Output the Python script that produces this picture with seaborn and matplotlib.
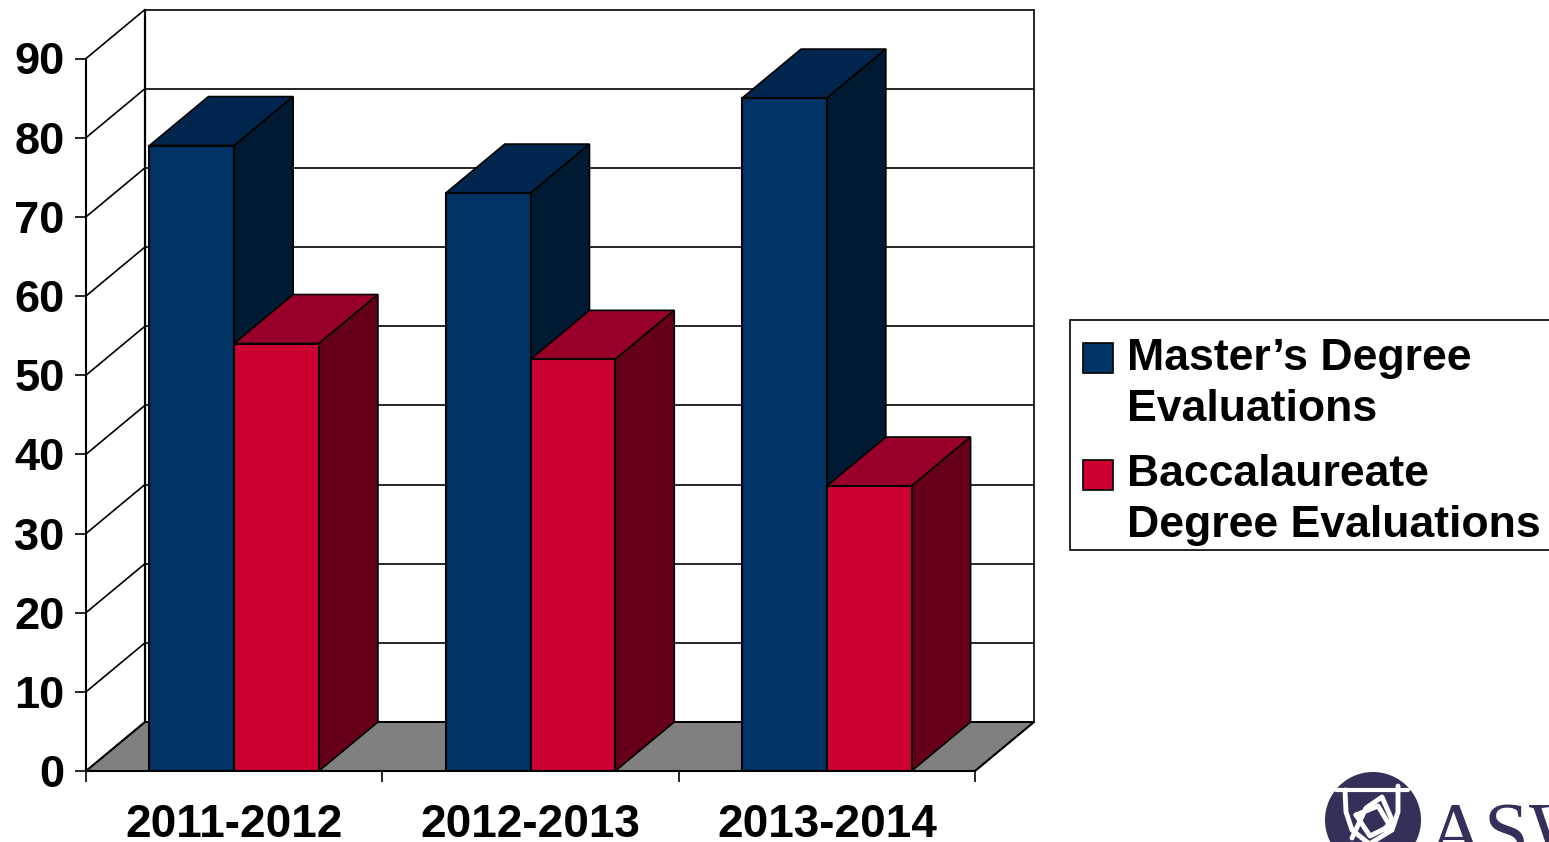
import matplotlib
matplotlib.use("Agg")
import matplotlib.pyplot as plt
import pandas as pd
import seaborn as sns
from matplotlib.patches import Circle, Polygon
from matplotlib.ticker import FixedLocator, NullFormatter

# Valores
years = ["2011-2012", "2012-2013", "2013-2014"]
masters = [79, 73, 85]
bachelors = [54, 52, 36]
series_names = ["Master\u2019s Degree\nEvaluations", "Baccalaureate\nDegree Evaluations"]
y_ticks = [0, 10, 20, 30, 40, 50, 60, 70, 80, 90]

W, H = 1549, 842
FS_X = 33.1
FS_Y = 32.6
FS_LEG = 32.1
BLUE = ("#003366", "#00264d", "#001a33")
RED = ("#cc0033", "#990029", "#660019")
NAVY = "#33305a"

sns.set_style("white")
plt.rcParams["font.family"] = ["Liberation Sans", "DejaVu Sans"]
plt.rcParams["font.weight"] = "bold"

df = pd.DataFrame({
    "year": years * 2,
    "value": masters + bachelors,
    "serie": [series_names[0]] * 3 + [series_names[1]] * 3,
})

fig = plt.figure(figsize=(W / 100, H / 100), dpi=100)
ax = fig.add_axes([86 / W, 1 - 771 / H, (975 - 86) / W, (771 - 58.5) / H])

sns.barplot(data=df, x="year", y="value", hue="serie", order=years,
            palette=[BLUE[0], RED[0]], width=0.572, gap=0, saturation=1,
            edgecolor="black", linewidth=1.5, ax=ax)
ax.set_xlim(-0.5, 2.5)
ax.set_ylim(0, 90)

# profundidad 3D en unidades de datos
dx = 59 / ((975 - 86) / 3)
dy = 49 / ((771 - 58.5) / 90)
x0, x1 = -0.5, 2.5

# paredes, suelo y rejilla
ax.add_patch(Polygon([(x0, 0), (x1, 0), (x1 + dx, dy), (x0 + dx, dy)], closed=True,
                     facecolor="#808080", edgecolor="black", lw=1.4, clip_on=False, zorder=1))
for t in y_ticks:
    ax.plot([x0, x0 + dx], [t, t + dy], color="black", lw=1.2, clip_on=False, zorder=1)
    ax.plot([x0 + dx, x1 + dx], [t + dy, t + dy], color="black", lw=1.2, clip_on=False, zorder=1)
ax.plot([x0 + dx, x0 + dx], [dy, 90 + dy], color="black", lw=1.6, clip_on=False, zorder=1)
ax.plot([x1 + dx, x1 + dx], [dy, 90 + dy], color="black", lw=1.2, clip_on=False, zorder=1)
ax.plot([x1, x1 + dx], [0, dy], color="black", lw=1.2, clip_on=False, zorder=1)

# caras superior y lateral de cada barra
for n, (container, shades) in enumerate(zip(ax.containers, (BLUE, RED))):
    for bar in container:
        left, right = bar.get_x(), bar.get_x() + bar.get_width()
        top = bar.get_height()
        bar.set_zorder(3 + 2 * n + 1)
        ax.add_patch(Polygon([(left, top), (right, top), (right + dx, top + dy), (left + dx, top + dy)],
                             closed=True, facecolor=shades[1], edgecolor="black", lw=1.2,
                             clip_on=False, zorder=3 + 2 * n))
        ax.add_patch(Polygon([(right, 0), (right, top), (right + dx, top + dy), (right + dx, dy)],
                             closed=True, facecolor=shades[2], edgecolor="black", lw=1.2,
                             clip_on=False, zorder=3 + 2 * n))

# ejes
sns.despine(ax=ax, top=True, right=True)
for side in ("left", "bottom"):
    ax.spines[side].set_color("black")
    ax.spines[side].set_linewidth(1.5)
    ax.spines[side].set_zorder(9)
ax.set_xlabel("")
ax.set_ylabel("")
ax.set_yticks(y_ticks)
ax.tick_params(axis="y", left=True, length=8, width=1.2, pad=7.5, labelsize=FS_Y, color="black", labelcolor="black")
ax.tick_params(axis="x", which="major", bottom=False, length=0, pad=23, labelsize=FS_X, labelcolor="black")
ax.xaxis.set_minor_locator(FixedLocator([-0.5, 0.5, 1.5, 2.5]))
ax.xaxis.set_minor_formatter(NullFormatter())
ax.tick_params(axis="x", which="minor", bottom=True, length=8, width=1.2, color="black")

# leyenda, el borde derecho queda fuera de la imagen
sns.move_legend(ax, "upper left", bbox_to_anchor=(1070 / W, 1 - 319.5 / H), bbox_transform=fig.transFigure,
                title=None, fontsize=FS_LEG, frameon=True, fancybox=False, framealpha=1, edgecolor="black",
                borderaxespad=0, borderpad=0.244, handlelength=0.67, handleheight=0.65,
                handletextpad=0.42, labelspacing=0.54)
leg = ax.get_legend()
leg.get_frame().set_linewidth(1.2)
leg.set_zorder(10)
for txt in leg.get_texts():
    txt.set_linespacing(1.32)
    txt.set_color("black")
    # el texto baja dentro del marco, como en el original
    txt.set_position((-2.4, -7.5))
for handle in leg.legend_handles:
    handle.set_y(handle.get_y() + 13.3)
    handle.set_x(handle.get_x() + 1.8)
    handle.set_edgecolor("black")
    handle.set_linewidth(1.2)

# logo cortado abajo a la derecha
logo = fig.add_axes([0, 0, 1, 1], facecolor="none")
logo.set_xlim(0, W)
logo.set_ylim(H, 0)
logo.axis("off")
logo.set_aspect("equal")
logo.add_patch(Circle((1373, 820), 48, facecolor=NAVY, edgecolor="none"))
for xs, ys, lw in [
    ([1336, 1408], [790, 790], 3),
    ([1345, 1346, 1352, 1372], [790, 812, 830, 846], 3.5),
    ([1398, 1398, 1392, 1366], [786, 812, 830, 846], 3.5),
    ([1352, 1366, 1382, 1392, 1384], [838, 808, 797, 820, 830], 3.5),
    ([1356, 1378, 1390, 1370, 1356], [815, 806, 826, 836, 815], 3.5),
]:
    logo.plot(xs, ys, color="white", lw=lw, solid_joinstyle="round")
logo.text(1426, 858, "ASW", family="Liberation Serif", fontweight="normal", fontsize=58,
          color=NAVY, ha="left", va="baseline")

fig.savefig("out.png", dpi=100)
